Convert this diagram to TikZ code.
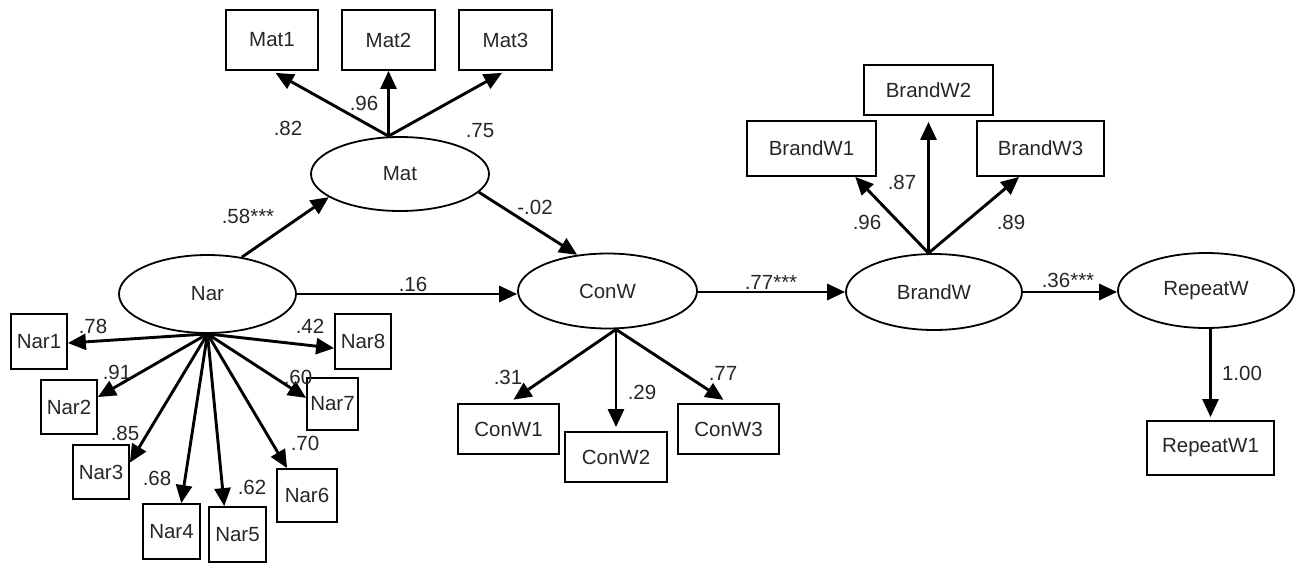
\documentclass[tikz,border=0pt]{standalone}
\usepackage{fontspec}
\setmainfont{Liberation Sans}
\usetikzlibrary{shapes.geometric,arrows.meta,calc}
\begin{document}
\begin{tikzpicture}[x=1pt,y=-1pt,
  font=\fontsize{20.5}{24}\selectfont,
  latent/.style={ellipse,draw,line width=1.8pt,inner sep=0pt,text=black!85},
  obs/.style={rectangle,draw,line width=1.8pt,inner sep=0pt,text=black!85},
  arr/.style={line width=2.9pt,-{Triangle[length=18pt,width=16pt]}},
  lab/.style={inner sep=0pt,text=black!85}]
\useasboundingbox (0,0) rectangle (1301,563);
% latent variables
\node[latent,minimum width=177pt,minimum height=78pt] (Nar) at (207.5,294) {Nar};
\node[latent,minimum width=178pt,minimum height=74pt] (Mat) at (400,174) {Mat};
\node[latent,minimum width=179pt,minimum height=75pt] (ConW) at (607.5,291) {ConW};
\node[latent,minimum width=176pt,minimum height=76pt] (BrandW) at (934,292) {BrandW};
\node[latent,minimum width=176pt,minimum height=75pt] (RepeatW) at (1206,290.5) {RepeatW};
% Nar indicators
\node[obs,minimum width=56pt,minimum height=55pt] (Nar1) at (39,341.5) {Nar1};
\node[obs,minimum width=56pt,minimum height=54pt] (Nar2) at (69,407) {Nar2};
\node[obs,minimum width=56pt,minimum height=54pt] (Nar3) at (101,472) {Nar3};
\node[obs,minimum width=57pt,minimum height=55pt] (Nar4) at (171.5,531.5) {Nar4};
\node[obs,minimum width=57pt,minimum height=55pt] (Nar5) at (237.5,534.5) {Nar5};
\node[obs,minimum width=60pt,minimum height=53pt] (Nar6) at (307,495.5) {Nar6};
\node[obs,minimum width=51pt,minimum height=52pt] (Nar7) at (332.5,404) {Nar7};
\node[obs,minimum width=56pt,minimum height=55pt] (Nar8) at (363,341.5) {Nar8};
% Mat indicators
\node[obs,minimum width=92pt,minimum height=60pt] (Mat1) at (272,40) {Mat1};
\node[obs,minimum width=93pt,minimum height=60pt] (Mat2) at (388.5,40) {Mat2};
\node[obs,minimum width=93pt,minimum height=60pt] (Mat3) at (505.5,40) {Mat3};
% ConW indicators
\node[obs,minimum width=101pt,minimum height=50pt] (ConW1) at (508.5,429) {ConW1};
\node[obs,minimum width=102pt,minimum height=50pt] (ConW2) at (616,457) {ConW2};
\node[obs,minimum width=101pt,minimum height=50pt] (ConW3) at (728.5,429) {ConW3};
% BrandW indicators
\node[obs,minimum width=129pt,minimum height=55pt] (BrandW1) at (811.5,148.5) {BrandW1};
\node[obs,minimum width=129pt,minimum height=50pt] (BrandW2) at (928.5,90) {BrandW2};
\node[obs,minimum width=127pt,minimum height=55pt] (BrandW3) at (1040.5,148.5) {BrandW3};
% RepeatW indicator
\node[obs,minimum width=127pt,minimum height=54pt] (RepeatW1) at (1210.5,448) {RepeatW1};
% source points
\coordinate (nsrc) at (Nar.south);
\coordinate (msrc) at (Mat2.south |- Mat.north);
\coordinate (csrc) at (ConW2.north |- ConW.south);
\coordinate (bsrc) at (BrandW2.south |- BrandW.north);
% Nar loadings
\draw[arr] (nsrc) -- (Nar1.-3);
\draw[arr] (nsrc) -- (Nar2.19);
\draw[arr] (nsrc) -- (Nar3.18);
\draw[arr] (nsrc) -- (Nar4.71);
\draw[arr] (nsrc) -- (Nar5.115);
\draw[arr] (nsrc) -- (Nar6.126);
\draw[arr] (nsrc) -- (Nar7.167);
\draw[arr] (nsrc) -- (Nar8.-167);
% Mat loadings
\draw[arr,shorten >=4pt] (msrc) -- (Mat1.south);
\draw[arr] (msrc) -- (Mat2.south);
\draw[arr,shorten >=4pt] (msrc) -- (Mat3.south);
% ConW loadings
\draw[arr,shorten >=6pt] (csrc) -- (ConW1.north);
\draw[arr,shorten >=4pt] (csrc) -- (ConW2.north);
\draw[arr,shorten >=6pt] (csrc) -- (ConW3.north);
% BrandW loadings
\draw[arr] (bsrc) -- (BrandW1.-33.5);
\draw[arr,shorten >=6pt] (bsrc) -- (BrandW2.south);
\draw[arr] (bsrc) -- (BrandW3.-127);
% RepeatW loading
\draw[arr,shorten >=3pt] (RepeatW1.north |- RepeatW.south) -- (RepeatW1.north);
% structural paths
\draw[arr] (Nar.47) -- (Mat.198);
\draw[arr] (Mat.-13) -- (ConW.130);
\draw[arr] (Nar.east) -- (Nar.east -| ConW.west);
\draw[arr] (ConW.east |- BrandW.west) -- (BrandW.west);
\draw[arr] (BrandW.east) -- (BrandW.east -| RepeatW.west);
% labels
\node[lab] (l1) at (93,326) {.78};
\node[lab] (l2) at (117,372) {.91};
\node[lab] (l3) at (125,433) {.85};
\node[lab] (l4) at (157,478) {.68};
\node[lab] (l5) at (252,487) {.62};
\node[lab] (l6) at (305,443) {.70};
\node[lab] (l7) at (298,377) {.60};
\node[lab] (l8) at (310,326) {.42};
\node[lab] (m1) at (288,128) {.82};
\node[lab] (m2) at (364,103) {.96};
\node[lab] (m3) at (480,131) {.75};
\node[lab] (c1) at (508,377) {.31};
\node[lab] (c2) at (642,392) {.29};
\node[lab] (c3) at (723,373) {.77};
\node[lab] (b1) at (867,222) {.96};
\node[lab] (b2) at (902,182) {.87};
\node[lab] (b3) at (1011,222) {.89};
\node[lab] (r1) at (1242,373) {1.00};
\node[lab] (p1) at (248,216) {.58***};
\node[lab] (p2) at (535,207) {-.02};
\node[lab] (p3) at (413,284) {.16};
\node[lab] (p4) at (771,282) {.77***};
\node[lab] (p5) at (1068,280) {.36***};
\end{tikzpicture}
\end{document}
